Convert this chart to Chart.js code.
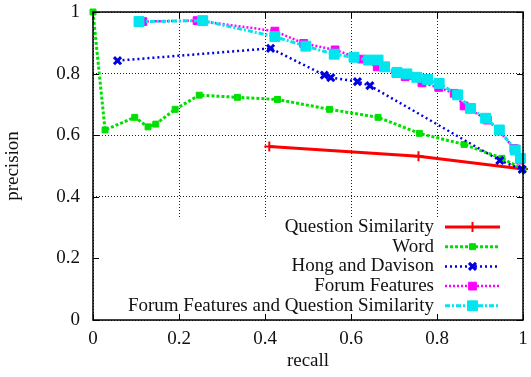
<!DOCTYPE html>
<html>
<head>
<meta charset="utf-8">
<script src="https://cdn.jsdelivr.net/npm/chart.js@4.4.0/dist/chart.umd.min.js"></script>
<style>
  html, body { margin: 0; padding: 0; background: #fff; }
  #wrap { width: 531px; height: 377px; position: relative; }
</style>
</head>
<body>
<div id="wrap"><canvas id="prChart"></canvas></div>
<script>
// series names, in legend order
const seriesNames = [
  'Question Similarity',
  'Word',
  'Hong and Davison',
  'Forum Features',
  'Forum Features and Question Similarity'
];

// recall / precision
const qsRecall = [0.41, 0.757, 1.0];
const qsPrecision = [0.563, 0.532, 0.49];

const wordRecall = [0, 0.028, 0.097, 0.128, 0.146, 0.191, 0.247, 0.336, 0.429, 0.550, 0.663, 0.759, 0.863, 0.951, 1.0];
const wordPrecision = [1.0, 0.617, 0.658, 0.627, 0.636, 0.684, 0.730, 0.723, 0.716, 0.684, 0.658, 0.606, 0.570, 0.525, 0.489];

const hongRecall = [0.057, 0.413, 0.538, 0.553, 0.615, 0.644, 0.946, 0.998];
const hongPrecision = [0.842, 0.882, 0.795, 0.787, 0.774, 0.761, 0.518, 0.489];

const ffRecall = [0.116, 0.242, 0.423, 0.490, 0.563, 0.624, 0.661, 0.705, 0.726, 0.765, 0.804, 0.840, 0.863, 0.917, 0.945, 0.979, 0.994];
const ffPrecision = [0.969, 0.972, 0.938, 0.898, 0.877, 0.847, 0.822, 0.801, 0.790, 0.770, 0.755, 0.736, 0.695, 0.649, 0.614, 0.557, 0.519];

const ffqsRecall = [0.107, 0.255, 0.423, 0.495, 0.561, 0.607, 0.641, 0.663, 0.678, 0.707, 0.730, 0.753, 0.778, 0.805, 0.848, 0.878, 0.913, 0.945, 0.982, 0.994];
const ffqsPrecision = [0.969, 0.972, 0.920, 0.889, 0.863, 0.853, 0.844, 0.844, 0.822, 0.804, 0.799, 0.788, 0.781, 0.768, 0.731, 0.687, 0.655, 0.617, 0.552, 0.525];

const xTicks = [0, 0.2, 0.4, 0.6, 0.8, 1];
const yTicks = [0, 0.2, 0.4, 0.6, 0.8, 1];

function pts(xs, ys) {
  return xs.map((v, i) => ({ x: v, y: ys[i] }));
}

const serif = '"Liberation Serif", "Times New Roman", serif';
const tickLabel = v => String(+v.toFixed(1));

// gnuplot-ish line styles
const styles = [
  { color: '#ff0000', width: 3, dash: [],           point: 'cross',    radius: 5,   pw: 2 },
  { color: '#00e000', width: 3, dash: [3, 2],       point: 'rect',     radius: 4.2, pw: 1 },
  { color: '#0000e0', width: 2.5, dash: [2, 3],     point: 'crossRot', radius: 5,   pw: 3 },
  { color: '#ff00ff', width: 2.5, dash: [2, 2],     point: 'rect',     radius: 5.5, pw: 1 },
  { color: '#00e5ee', width: 3, dash: [5, 2, 2, 2], point: 'rect',     radius: 7,   pw: 1 }
];

const seriesData = [
  pts(qsRecall, qsPrecision),
  pts(wordRecall, wordPrecision),
  pts(hongRecall, hongPrecision),
  pts(ffRecall, ffPrecision),
  pts(ffqsRecall, ffqsPrecision)
];

const datasets = seriesData.map((d, i) => ({
  label: seriesNames[i],
  data: d,
  borderColor: styles[i].color,
  backgroundColor: styles[i].color,
  borderWidth: styles[i].width,
  borderDash: styles[i].dash,
  pointStyle: styles[i].point,
  pointRadius: styles[i].radius,
  pointHoverRadius: styles[i].radius,
  pointBorderWidth: styles[i].pw,
  pointBackgroundColor: styles[i].color,
  pointBorderColor: styles[i].color,
  fill: false,
  tension: 0,
  clip: 8,
  order: seriesData.length - i
}));

// frame, inward ticks and the opaque key box, drawn the way gnuplot does
const gnuplotFrame = {
  id: 'gnuplotFrame',
  afterDatasetsDraw(chart) {
    const { ctx, chartArea: a, scales: { x, y } } = chart;
    ctx.save();

    // key box covers the grid
    ctx.fillStyle = '#fff';
    ctx.fillRect(a.left + 1, a.bottom - 103, a.right - a.left - 2, 102);

    // border
    ctx.strokeStyle = '#000';
    ctx.lineWidth = 1.5;
    ctx.setLineDash([]);
    ctx.strokeRect(a.left, a.top, a.right - a.left, a.bottom - a.top);

    // ticks pointing inwards
    ctx.lineWidth = 1;
    ctx.beginPath();
    xTicks.forEach(v => {
      const px = Math.round(x.getPixelForValue(v)) + 0.5;
      ctx.moveTo(px, a.bottom); ctx.lineTo(px, a.bottom - 6);
      ctx.moveTo(px, a.top); ctx.lineTo(px, a.top + 6);
    });
    yTicks.forEach(v => {
      const py = Math.round(y.getPixelForValue(v)) + 0.5;
      ctx.moveTo(a.left, py); ctx.lineTo(a.left + 6, py);
      ctx.moveTo(a.right, py); ctx.lineTo(a.right - 6, py);
    });
    ctx.stroke();

    // key entries
    ctx.font = '19px ' + serif;
    ctx.textAlign = 'right';
    ctx.textBaseline = 'middle';
    const textX = a.right - 89;
    const x0 = a.right - 78, x1 = a.right - 23;
    chart.data.datasets.forEach((ds, i) => {
      const ry = a.bottom - 93 + i * 19.7;
      ctx.fillStyle = '#111';
      ctx.fillText(seriesNames[i], textX, ry);
      ctx.strokeStyle = ds.borderColor;
      ctx.lineWidth = ds.borderWidth;
      ctx.setLineDash(ds.borderDash);
      ctx.beginPath();
      ctx.moveTo(x0, ry); ctx.lineTo(x1, ry);
      ctx.stroke();
      ctx.setLineDash([]);
      ctx.fillStyle = ds.pointBackgroundColor;
      ctx.strokeStyle = ds.pointBorderColor;
      ctx.lineWidth = ds.pointBorderWidth;
      Chart.helpers.drawPoint(ctx, {
        pointStyle: ds.pointStyle,
        radius: ds.pointRadius,
        borderWidth: ds.pointBorderWidth,
        rotation: 0
      }, (x0 + x1) / 2, ry);
    });
    ctx.restore();
  }
};

const ctx = document.getElementById('prChart').getContext('2d');
new Chart(ctx, {
  type: 'line',
  data: { datasets },
  plugins: [gnuplotFrame],
  options: {
    animation: false,
    responsive: true,
    maintainAspectRatio: false,
    layout: { padding: { top: 12, right: 1, left: 0, bottom: 0 } },
    plugins: {
      legend: { display: false },
      tooltip: { enabled: true }
    },
    scales: {
      x: {
        type: 'linear',
        min: 0,
        max: 1,
        afterBuildTicks: s => { s.ticks = xTicks.map(v => ({ value: v })); },
        afterFit: s => { s.height = 57; s.paddingLeft = 0; s.paddingRight = 0; },
        ticks: { color: '#111', font: { family: serif, size: 19 }, padding: 8, maxRotation: 0, callback: tickLabel },
        grid: { color: '#222', lineWidth: 1, drawTicks: false },
        border: { display: false, dash: [1, 2] },
        title: {
          display: true,
          text: 'recall',
          color: '#111',
          font: { family: serif, size: 19 },
          padding: { top: 0, bottom: 5 }
        }
      },
      y: {
        type: 'linear',
        min: 0,
        max: 1,
        afterBuildTicks: s => { s.ticks = yTicks.map(v => ({ value: v })); },
        afterFit: s => { s.width = 93; s.paddingTop = 0; s.paddingBottom = 0; },
        ticks: { color: '#111', font: { family: serif, size: 19 }, padding: 13, callback: tickLabel },
        grid: { color: '#222', lineWidth: 1, drawTicks: false },
        border: { display: false, dash: [1, 2] },
        title: {
          display: true,
          text: 'precision',
          color: '#111',
          font: { family: serif, size: 19 },
          padding: { top: 2, bottom: 0 }
        }
      }
    }
  }
});
</script>
</body>
</html>
